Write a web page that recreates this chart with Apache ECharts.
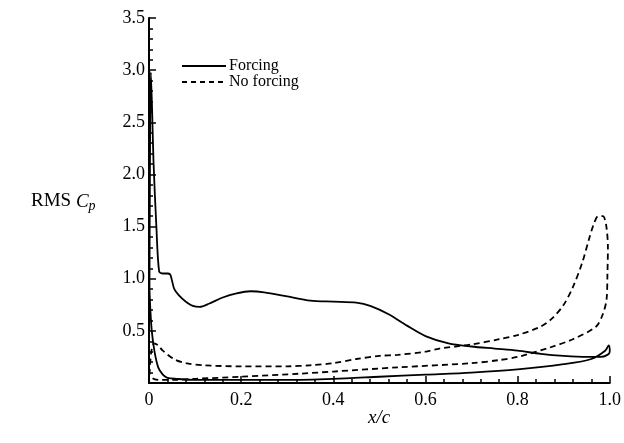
<!DOCTYPE html>
<html>
<head>
<meta charset="utf-8">
<script src="https://cdn.jsdelivr.net/npm/echarts@6/dist/echarts.min.js"></script>
<style>html,body{margin:0;padding:0;background:#fff;}#c{width:624px;height:443px;}</style>
</head>
<body>
<div id="c"></div>
<script>
// x/c positions and RMS Cp values, traced around each closed loop
var xTicks = [0, 0.2, 0.4, 0.6, 0.8, 1.0];
var yTicks = [0.5, 1.0, 1.5, 2.0, 2.5, 3.0, 3.5];
var legendNames = ['Forcing', 'No forcing'];

var forcingX = [0.001,0.002,0.004,0.010,0.016,0.022,0.030,0.040,0.046,0.050,0.055,0.065,0.080,0.095,0.110,0.130,0.160,0.190,0.220,0.250,0.300,0.350,0.400,0.450,0.480,0.520,0.560,0.600,0.650,0.700,0.750,0.800,0.850,0.900,0.950,0.980,0.995,1.000,
                0.998,0.990,0.960,0.900,0.800,0.700,0.600,0.500,0.400,0.300,0.200,0.100,0.060,0.040,0.030,0.020,0.012,0.006,0.003,0.001];
var forcingY = [0.90,2.00,2.98,2.10,1.50,1.07,1.05,1.05,1.04,0.98,0.90,0.84,0.78,0.74,0.73,0.76,0.82,0.86,0.88,0.87,0.83,0.79,0.78,0.77,0.74,0.66,0.55,0.45,0.38,0.35,0.33,0.31,0.28,0.26,0.25,0.25,0.27,0.30,
                0.36,0.31,0.23,0.18,0.13,0.10,0.08,0.06,0.04,0.03,0.03,0.03,0.04,0.05,0.08,0.15,0.30,0.50,0.70,0.90];

var noForcingX = [0.001,0.005,0.011,0.020,0.030,0.054,0.080,0.120,0.200,0.300,0.350,0.400,0.450,0.500,0.540,0.600,0.630,0.700,0.760,0.800,0.850,0.875,0.900,0.920,0.940,0.955,0.965,0.975,0.985,0.992,0.996,0.995,0.993,0.985,0.970,0.920,0.870,0.800,0.760,0.700,0.540,0.400,0.330,0.200,0.100,0.050,0.020,0.010,0.005,0.001];
var noForcingY = [0.08,0.30,0.38,0.36,0.31,0.23,0.19,0.17,0.16,0.16,0.17,0.19,0.23,0.26,0.27,0.30,0.33,0.37,0.42,0.46,0.54,0.62,0.75,0.92,1.15,1.38,1.52,1.60,1.60,1.52,1.30,1.05,0.80,0.66,0.54,0.42,0.34,0.25,0.22,0.19,0.15,0.11,0.09,0.06,0.04,0.03,0.03,0.04,0.06,0.08];

function pairs(xs, ys){ var o=[]; for(var i=0;i<xs.length;i++){o.push([xs[i],ys[i]]);} return o; }

var chart = echarts.init(document.getElementById('c'), null, {renderer:'canvas'});
var font = 'Liberation Serif';
chart.setOption({
  animation:false,
  backgroundColor:'#fff',
  grid:{left:149, right:13, top:18, bottom:60, containLabel:false},
  xAxis:{
    type:'value', min:0, max:1, interval:0.2,
    axisLine:{show:true, lineStyle:{color:'#000', width:2}},
    axisTick:{show:true, inside:true, length:7, lineStyle:{color:'#000', width:1.5}},
    minorTick:{show:true, splitNumber:5, length:4, lineStyle:{color:'#000', width:1.5}},
    splitLine:{show:false},
    axisLabel:{fontFamily:font, fontSize:18, color:'#000', margin:8,
      formatter:function(v){ return v===0?'0':v.toFixed(1); }}
  },
  yAxis:{
    type:'value', min:0, max:3.5, interval:0.5,
    axisLine:{show:true, lineStyle:{color:'#000', width:2}},
    axisTick:{show:true, inside:true, length:7, lineStyle:{color:'#000', width:1.5}},
    minorTick:{show:true, splitNumber:5, length:4, lineStyle:{color:'#000', width:1.5}},
    splitLine:{show:false},
    axisLabel:{fontFamily:font, fontSize:18, color:'#000', margin:4,
      formatter:function(v){ return v===0?'':v.toFixed(1); }}
  },
  graphic:[
    {type:'text', left:31, top:192, style:{text:'{n|RMS }{c|C}{s|p}', fontFamily:font, fill:'#000',
      rich:{n:{fontFamily:font,fontSize:19,fill:'#000'},c:{fontFamily:font,fontSize:19,fontStyle:'italic',fill:'#000'},s:{fontFamily:font,fontSize:14,fontStyle:'italic',fill:'#000',padding:[9,0,0,0]}}}},
    {type:'text', left:368, top:408, style:{text:'x/c', fontFamily:font, fontSize:19, fontStyle:'italic', fill:'#000'}},
    {type:'line', shape:{x1:182,y1:66,x2:226,y2:66}, style:{stroke:'#000', lineWidth:1.8}},
    {type:'line', shape:{x1:182,y1:82,x2:226,y2:82}, style:{stroke:'#000', lineWidth:1.8, lineDash:[5,4]}},
    {type:'text', left:229, top:58, style:{text:legendNames[0], fontFamily:font, fontSize:16, fill:'#000'}},
    {type:'text', left:229, top:74, style:{text:legendNames[1], fontFamily:font, fontSize:16, fill:'#000'}}
  ],
  series:[
    {name:legendNames[0], type:'line', data:pairs(forcingX, forcingY), showSymbol:false, symbol:'none', smooth:0.3,
      lineStyle:{color:'#000', width:1.8, type:'solid'}, itemStyle:{color:'#000'}},
    {name:legendNames[1], type:'line', data:pairs(noForcingX, noForcingY), showSymbol:false, symbol:'none', smooth:0.3,
      lineStyle:{color:'#000', width:1.8, type:[6,4]}, itemStyle:{color:'#000'}}
  ]
});
</script>
</body>
</html>
